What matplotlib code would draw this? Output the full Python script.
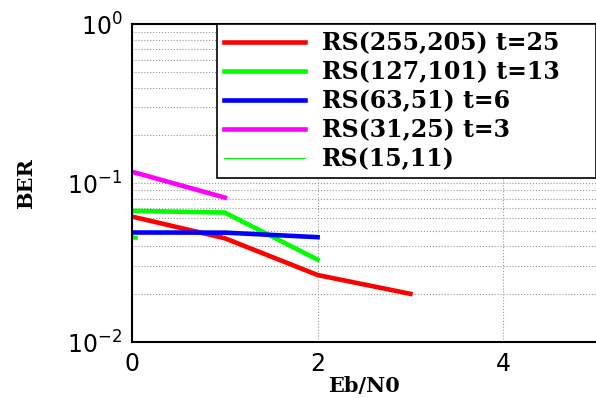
import numpy as np
import matplotlib
matplotlib.use('Agg')
import matplotlib.pyplot as plt

# Eb/N0 points and BER
snr_255 = [0, 1, 2, 3]
ber_255 = [0.0616, 0.0450, 0.0264, 0.0201]
snr_127 = [0, 1, 2]
ber_127 = [0.0669, 0.0653, 0.0330]
snr_63 = [0, 1, 2]
ber_63 = [0.0489, 0.0488, 0.0457]
snr_31 = [0, 1]
ber_31 = [0.118, 0.0811]
snr_15 = [0, 0.04]
ber_15 = [0.0455, 0.0453]

labels = ['RS(255,205) t=25', 'RS(127,101) t=13', 'RS(63,51) t=6',
          'RS(31,25) t=3', 'RS(15,11)']
x_ticks = [0, 2, 4]

fig = plt.figure(figsize=(5.96, 3.98), dpi=100)
ax = fig.add_axes([132/596, 1-342/398, 1-132/596, (342-24.3)/398])

ax.plot(snr_255, ber_255, color='#ff0000', lw=3.3, label=labels[0])
ax.plot(snr_127, ber_127, color='#00ff00', lw=3.3, label=labels[1])
ax.plot(snr_63, ber_63, color='#0000ff', lw=3.3, label=labels[2])
ax.plot(snr_31, ber_31, color='#ff00ff', lw=3.3, label=labels[3])
ax.plot(snr_15, ber_15, color='#00ff00', lw=0.8, label=labels[4])
ax.plot(snr_15, ber_15, color='#00ff00', lw=3)

ax.set_yscale('log')
ax.set_ylim(1e-2, 1)
ax.set_xlim(0, 5)
ax.set_xticks(x_ticks)
ax.set_xticklabels([str(v) for v in x_ticks])

ax.grid(True, which='major', axis='x', color='#999999', ls=':', lw=0.8)
ax.grid(True, which='both', axis='y', color='#999999', ls=':', lw=0.8)
ax.tick_params(which='both', length=0, labelsize=17, pad=7)

for s in ['left', 'bottom', 'top']:
    ax.spines[s].set_linewidth(1.5)
ax.spines['right'].set_visible(False)

ax.set_xlabel('Eb/N0', family='DejaVu Serif', weight='bold', fontsize=15, labelpad=0)
ax.set_ylabel('BER', family='DejaVu Serif', weight='bold', fontsize=15)
ax.yaxis.set_label_coords(-0.207, 0.5)

leg = ax.legend(loc='upper left', bbox_to_anchor=(85/465, 0, 380/465, 1.0),
                mode='expand', borderaxespad=0, fancybox=False,
                prop={'family': 'DejaVu Serif', 'weight': 'bold', 'size': 17},
                handlelength=3.45, handletextpad=0.7, labelspacing=0.21,
                borderpad=0.3, framealpha=1)
leg.get_frame().set_edgecolor('black')
leg.get_frame().set_linewidth(1.2)

fig.savefig('out.png', dpi=100)
